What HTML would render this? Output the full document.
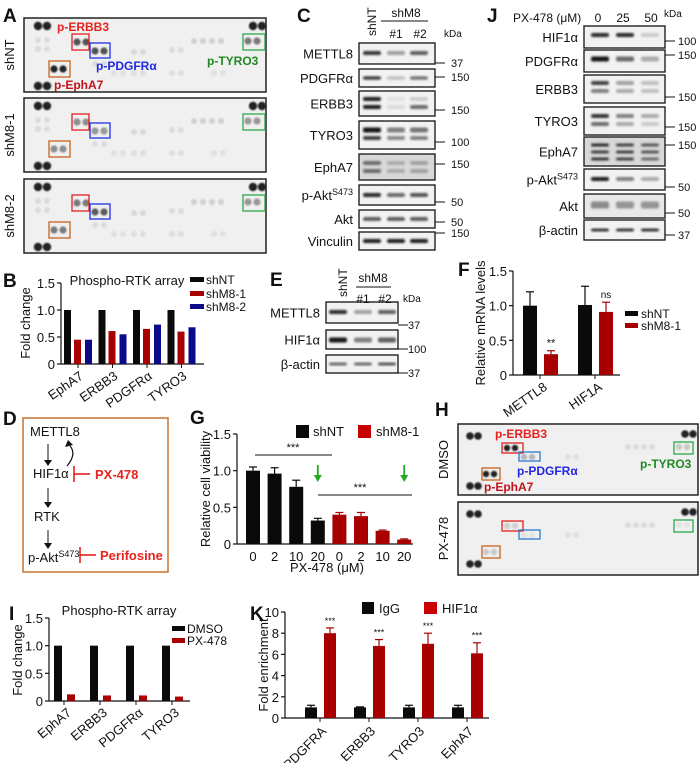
<!DOCTYPE html>
<html><head><meta charset="utf-8"><style>
html,body{margin:0;padding:0;background:#fff;}
svg{display:block;font-family:"Liberation Sans",Arial,sans-serif;}
</style></head><body>
<svg id="fig" width="700" height="763" viewBox="0 0 700 763" xmlns="http://www.w3.org/2000/svg">
<defs>
<filter id="blur1" x="-50%" y="-50%" width="200%" height="200%"><feGaussianBlur stdDeviation="1.1"/></filter>
<filter id="blur2" x="-50%" y="-50%" width="200%" height="200%"><feGaussianBlur stdDeviation="0.8"/></filter>
</defs>
<g id="root"></g>
</svg>
<script>
// ---------- chart data ----------
const bCats = ["EphA7","ERBB3","PDGFRα","TYRO3"];
const bShNT = [1,1,1,1];
const bShM81 = [0.45,0.61,0.65,0.60];
const bShM82 = [0.45,0.55,0.73,0.68];
const bTicks = [0,0.5,1.0,1.5];

const fCats = ["METTL8","HIF1A"];
const fShNT = [1.0,1.01];
const fShNTErr = [0.2,0.27];
const fShM8 = [0.3,0.91];
const fShM8Err = [0.05,0.14];
const fSig = ["**","ns"];
const fTicks = [0,0.5,1.0,1.5];

const gDoses = ["0","2","10","20","0","2","10","20"];
const gValues = [1.0,0.96,0.78,0.32,0.40,0.38,0.18,0.06];
const gErrors = [0.05,0.08,0.09,0.03,0.03,0.05,0.01,0.01];
const gGroup = ["shNT","shNT","shNT","shNT","shM8-1","shM8-1","shM8-1","shM8-1"];
const gTicks = [0,0.5,1.0,1.5];

const iCats = ["EphA7","ERBB3","PDGFRα","TYRO3"];
const iDMSO = [1,1,1,1];
const iPX = [0.12,0.1,0.1,0.08];
const iTicks = [0,0.5,1.0,1.5];

const kCats = ["PDGFRA","ERBB3","TYRO3","EphA7"];
const kIgG = [1.0,1.0,1.0,1.0];
const kIgGErr = [0.2,0.05,0.2,0.2];
const kHIF = [8.0,6.8,7.0,6.1];
const kHIFErr = [0.5,0.6,1.0,1.0];
const kTicks = [0,2,4,6,8,10];

// ---------- helpers ----------
const NS="http://www.w3.org/2000/svg";
const root=document.getElementById('root');
function el(tag,attrs,parent,text){
  const e=document.createElementNS(NS,tag);
  for(const k in attrs) e.setAttribute(k,attrs[k]);
  if(text!==undefined) e.textContent=text;
  (parent||root).appendChild(e);
  return e;
}
function grp(name,parent){const g=el('g',{},parent);return g;}
function txt(parent,x,y,s,opts){
  opts=opts||{};
  const t=el('text',{x:x,y:y,'font-size':opts.size||12,fill:opts.fill||'#111','text-anchor':opts.anchor||'start','font-weight':opts.bold?'bold':'normal'},parent,s);
  if(opts.rot!==undefined) t.setAttribute('transform','rotate('+opts.rot+' '+x+' '+y+')');
  
  
  return t;
}
function line(parent,x1,y1,x2,y2,stroke,w){return el('line',{x1:x1,y1:y1,x2:x2,y2:y2,stroke:stroke||'#111','stroke-width':w||1},parent);}
function panelLetter(x,y,s){txt(root,x,y,s,{size:19,bold:true,name:'panel-label-'+s.toLowerCase()});}

// ---------- panel letters ----------
panelLetter(3,22,'A');panelLetter(297,22,'C');panelLetter(487,22,'J');
panelLetter(3,287,'B');panelLetter(270,286,'E');panelLetter(458,276,'F');
panelLetter(3,425,'D');panelLetter(190,424,'G');panelLetter(435,416,'H');
panelLetter(9,620,'I');panelLetter(250,620,'K');

// ---------- dot arrays (A, H) ----------
function dotArray(name,x,y,w,h,dots,boxes,label){
  const g=grp(name);
  el('rect',{x:x,y:y,width:w,height:h,fill:'#f0f0f0',stroke:'#222','stroke-width':1.5},g);
  const dg=el('g',{filter:'url(#blur2)'},g);
  dots.forEach(d=>{
    const c=Math.round(232-200*d[2]);
    const e=el('circle',{cx:x+d[0],cy:y+d[1],r:d[3]||3.6,fill:'rgb('+c+','+c+','+c+')'},dg);
    
  });
  boxes.forEach(b=>{
    const r=el('rect',{x:x+b[0],y:y+b[1],width:b[2],height:b[3],fill:'none',stroke:b[4],'stroke-width':1.3},g);
    
  });
  txt(g,x-10,y+h/2,label,{size:13,anchor:'middle',rot:-90,name:'array-row-label'});
  return g;
}
function pair(a,px,py,int,r,dx){a.push([px,py,int,r]);a.push([px+(dx||9),py,int,r]);}
function aDots(v){
  const a=[];
  pair(a,14,8,1,4.2);pair(a,14,68,1,4.2);pair(a,229,8,1,4.2);
  pair(a,53,24,v[0]);pair(a,71,33,v[1]);pair(a,30,51,v[2]);pair(a,224,23,v[3]);
  pair(a,14,22,0.07,3);pair(a,14,31,0.06,3);pair(a,110,34,0.08,3);pair(a,148,32,0.06,3);
  pair(a,170,23,0.12,3);pair(a,188,23,0.12,3);pair(a,71,46,0.06,3);pair(a,110,55,0.05,3);
  pair(a,148,55,0.05,3);pair(a,190,55,0.04,3);pair(a,90,55,0.04,3);
  return a;
}
const aBoxes=[[48,16,17,16,'#e02020'],[66,25,20,15,'#2030e0'],[25,43,21,16,'#c8641e'],[219,16,22,16,'#2aaa4a']];
dotArray('array-shnt',24,18,242,74,aDots([0.75,0.75,1,0.55]),aBoxes,'shNT');
dotArray('array-shm8-1',24,98,242,74,aDots([0.45,0.4,0.45,0.4]),aBoxes,'shM8-1');
dotArray('array-shm8-2',24,179,242,74,aDots([0.55,0.7,0.55,0.4]),aBoxes,'shM8-2');
txt(root,57,31,'p-ERBB3',{size:12,bold:true,fill:'#e8221f',name:'label-p-erbb3'});
txt(root,96,70,'p-PDGFRα',{size:12,bold:true,fill:'#2228e0',name:'label-p-pdgfra'});
txt(root,207,65,'p-TYRO3',{size:12,bold:true,fill:'#1f8a1f',name:'label-p-tyro3'});
txt(root,54,89,'p-EphA7',{size:12,bold:true,fill:'#c0141a',name:'label-p-epha7'});

function hDots(v){
  const a=[];
  pair(a,12,12,1,3.8,8);pair(a,12,62,1,3.8,8);pair(a,227,10,1,3.8,8);
  pair(a,49,24,v[0],3.2,8);pair(a,66,33,v[1],3.2,8);pair(a,28,50,v[2],3.2,8);pair(a,221,23,v[3],3.2,8);
  pair(a,170,23,0.06,3,8);pair(a,186,23,0.06,3,8);pair(a,110,33,0.04,3,8);
  return a;
}
const hBoxes=[[44,19,21,10,'#e02020'],[61,28,21,9,'#2a7ad0'],[24,44,18,12,'#c8641e'],[216,18,19,12,'#2aaa4a']];
dotArray('array-dmso',458,424,240,71,hDots([1,0.25,1,0.15]),hBoxes,'DMSO');
dotArray('array-px478',458,502,240,73,hDots([0.12,0.02,0.15,0.02]),hBoxes,'PX-478');
txt(root,495,438,'p-ERBB3',{size:12,bold:true,fill:'#e8221f',name:'label-p-erbb3-h'});
txt(root,517,475,'p-PDGFRα',{size:12,bold:true,fill:'#2228e0',name:'label-p-pdgfra-h'});
txt(root,640,468,'p-TYRO3',{size:12,bold:true,fill:'#1f8a1f',name:'label-p-tyro3-h'});
txt(root,484,491,'p-EphA7',{size:12,bold:true,fill:'#c0141a',name:'label-p-epha7-h'});

// ---------- western blots ----------
function blot(name,bx,bw,rows,lanes,kdas,kx){
  const g=grp(name);
  rows.forEach(r=>{
    const rg=grp('blot-row-'+r.label.replace(/[^A-Za-z0-9]/g,'').toLowerCase(),g);
    el('rect',{x:bx,y:r.y,width:bw,height:r.h,fill:r.bg||'#f2f2f2',stroke:'#222','stroke-width':1.4},rg);
    const bg=el('g',{filter:'url(#blur1)'},rg);
    r.bands.forEach(b=>{
      lanes.forEach((lx,i)=>{
        const v=b.v[i]; if(v<=0) return;
        const c=Math.round(235-215*v);
        el('rect',{x:lx-9,y:r.y+b.dy-b.t/2,width:18,height:b.t,rx:2,fill:'rgb('+c+','+c+','+c+')'},bg);
      });
    });
    const lt=txt(rg,bx-6,r.y+r.h/2+5,'',{size:13,anchor:'end',name:'blot-label'});
    if(r.sup){lt.textContent=r.label;el('tspan',{'font-size':9,dy:-5},lt,r.sup);}
    else lt.textContent=r.label;
  });
  kdas.forEach(k=>{
    line(g,bx+bw,k[1],bx+bw+10,k[1],'#111',1);
    txt(g,kx,k[1]+4,k[0],{size:11,name:'kda-marker'});
  });
  return g;
}
const cL=[372,396,419];
blot('blot-c',359,76,[
 {label:'METTL8',y:43,h:21,bands:[{dy:10,t:4,v:[0.85,0.35,0.65]}]},
 {label:'PDGFRα',y:69,h:18,bands:[{dy:9,t:3.5,v:[0.8,0.2,0.55]}]},
 {label:'ERBB3',y:91,h:25,bands:[{dy:8,t:4,v:[0.95,0.05,0.15]},{dy:16,t:4,v:[0.95,0.08,0.6]}]},
 {label:'TYRO3',y:121,h:28,bands:[{dy:9,t:5,v:[1,0.5,0.55]},{dy:17,t:4,v:[0.8,0.45,0.5]}]},
 {label:'EphA7',y:154,h:26,bg:'#d8d8d8',bands:[{dy:9,t:4,v:[0.6,0.3,0.35]},{dy:17,t:4,v:[0.6,0.3,0.35]}]},
 {label:'p-Akt',sup:'S473',y:185,h:20,bands:[{dy:10,t:4,v:[0.9,0.6,0.7]}]},
 {label:'Akt',y:210,h:18,bands:[{dy:9,t:4,v:[0.65,0.65,0.65]}]},
 {label:'Vinculin',y:232,h:18,bands:[{dy:9,t:4,v:[0.95,0.95,0.95]}]}
],cL,[['37',63],['150',77],['150',110],['100',142],['150',164],['50',202],['50',222],['150',233]],451);
txt(root,376,36,'shNT',{size:12,rot:-90,name:'lane-shnt'});
txt(root,406,17,'shM8',{size:12,anchor:'middle',name:'lane-shm8'});
line(root,381,21,428,21);
txt(root,396,38,'#1',{size:12,anchor:'middle',name:'lane-1'});
txt(root,420,38,'#2',{size:12,anchor:'middle',name:'lane-2'});
txt(root,444,37,'kDa',{size:10,name:'kda-header'});

const jL=[600,625,650];
blot('blot-j',584,81,[
 {label:'HIF1α',y:26,h:22,bands:[{dy:9,t:4,v:[0.9,0.9,0.15]}]},
 {label:'PDGFRα',y:50,h:22,bands:[{dy:9,t:5,v:[1,0.6,0.3]}]},
 {label:'ERBB3',y:75,h:28,bands:[{dy:8,t:4,v:[0.8,0.35,0.2]},{dy:16,t:4,v:[0.5,0.3,0.2]}]},
 {label:'TYRO3',y:107,h:28,bands:[{dy:9,t:4,v:[0.85,0.5,0.3]},{dy:17,t:4,v:[0.6,0.3,0.15]}]},
 {label:'EphA7',y:137,h:29,bg:'#d8d8d8',bands:[{dy:8,t:3,v:[0.9,0.8,0.7]},{dy:15,t:3,v:[0.8,0.8,0.7]},{dy:22,t:3,v:[0.85,0.8,0.6]}]},
 {label:'p-Akt',sup:'S473',y:169,h:21,bands:[{dy:10,t:4,v:[0.95,0.5,0.3]}]},
 {label:'Akt',y:194,h:24,bg:'#e8e8e8',bands:[{dy:11,t:7,v:[0.45,0.4,0.4]}]},
 {label:'β-actin',y:220,h:20,bands:[{dy:10,t:3,v:[0.85,0.85,0.85]}]}
],jL,[['100',41],['150',55],['150',97],['150',127],['150',145],['50',187],['50',213],['37',235]],678);
txt(root,513,22,'PX-478 (μM)',{size:12,name:'px478-header'});
txt(root,598,22,'0',{size:12,anchor:'middle',name:'dose-0'});
txt(root,623,22,'25',{size:12,anchor:'middle',name:'dose-25'});
txt(root,651,22,'50',{size:12,anchor:'middle',name:'dose-50'});
txt(root,664,17,'kDa',{size:10,name:'kda-header-j'});

const eL=[338,363,387];
blot('blot-e',326,72,[
 {label:'METTL8',y:302,h:21,bands:[{dy:10,t:4,v:[0.9,0.35,0.65]}]},
 {label:'HIF1α',y:330,h:19,bands:[{dy:10,t:5,v:[1,0.5,0.65]}]},
 {label:'β-actin',y:355,h:18,bands:[{dy:9,t:3,v:[0.6,0.6,0.7]}]}
],eL,[['37',325],['100',349],['37',373]],408);
txt(root,347,297,'shNT',{size:12,rot:-90,name:'lane-shnt-e'});
txt(root,373,282,'shM8',{size:12,anchor:'middle',name:'lane-shm8-e'});
line(root,356,287,391,287);
txt(root,363,303,'#1',{size:12,anchor:'middle',name:'lane-1-e'});
txt(root,385,303,'#2',{size:12,anchor:'middle',name:'lane-2-e'});
txt(root,403,302,'kDa',{size:10,name:'kda-header-e'});

// ---------- axis helper ----------
function yAxis(g,x,y0,y1,ticks,maxV,fmt){
  line(g,x,y0,x,y1,'#111',1.2);
  const sc=v=>y0-(v/maxV)*(y0-y1);
  ticks.forEach(t=>{
    line(g,x-4,sc(t),x,sc(t),'#111',1.2);
    txt(g,x-6,sc(t)+5,fmt(t),{size:13,anchor:'end',name:'y-tick-label'});
  });
  return sc;
}
const f1=t=>t===0?'0':t.toFixed(1);
function bar(g,x,w,y0,y,fill,name){
  const r=el('rect',{x:x,y:y,width:w,height:y0-y,fill:fill},g);
  
}
function err(g,cx,y,ye,fill){line(g,cx,y,cx,ye,fill,1.2);line(g,cx-4,ye,cx+4,ye,fill,1.2);}
const BLK='#0a0a0a',RED='#a80000',BLU='#0a0a8a';

// ---------- B ----------
(function(){
  const g=grp('chart-b');
  const x0=61,x1=204,y0=364,y1=283;
  const sy=yAxis(g,x0,y0,y1,bTicks,1.5,f1);
  line(g,x0,y0,x1,y0,'#111',1.2);
  const gx=i=>64+i*34.5;
  bCats.forEach((c,i)=>{
    bar(g,gx(i),7,y0,sy(bShNT[i]),BLK,'bar-shnt-'+c);
    bar(g,gx(i)+10,7,y0,sy(bShM81[i]),RED,'bar-shm8-1-'+c);
    bar(g,gx(i)+21,7,y0,sy(bShM82[i]),BLU,'bar-shm8-2-'+c);
    line(g,gx(i)+14,y0,gx(i)+14,y0+4);
    txt(g,gx(i)+20,y0+14,c,{size:13,anchor:'end',rot:-35,name:'x-tick-label'});
  });
  txt(g,30,323,'Fold change',{size:13,anchor:'middle',rot:-90,name:'y-axis-title'});
  txt(g,127,285,'Phospho-RTK array',{size:13,anchor:'middle',name:'chart-title'});
  [['shNT',BLK,280],['shM8-1',RED,294],['shM8-2',BLU,307]].forEach(l=>{
    el('rect',{x:190,y:l[2]-3,width:14,height:5,fill:l[1]},g);
    txt(g,206,l[2]+4,l[0],{size:12,name:'legend-entry'});
  });
})();

// ---------- F ----------
(function(){
  const g=grp('chart-f');
  const x0=513,x1=620,y0=375,y1=271;
  const sy=yAxis(g,x0,y0,y1,fTicks,1.5,f1);
  line(g,x0,y0,x1,y0,'#111',1.2);
  const gx=i=>523+i*55;
  fCats.forEach((c,i)=>{
    bar(g,gx(i),14,y0,sy(fShNT[i]),BLK,'bar-shnt-'+c);
    err(g,gx(i)+7,sy(fShNT[i]),sy(fShNT[i]+fShNTErr[i]),BLK);
    bar(g,gx(i)+21,14,y0,sy(fShM8[i]),RED,'bar-shm8-'+c);
    err(g,gx(i)+28,sy(fShM8[i]),sy(fShM8[i]+fShM8Err[i]),RED);
    txt(g,gx(i)+28,sy(fShM8[i]+fShM8Err[i])-4,fSig[i],{size:fSig[i]==='ns'?10:11,anchor:'middle',name:'significance'});
    line(g,gx(i)+17,y0,gx(i)+17,y0+4);
    txt(g,gx(i)+25,y0+14,c,{size:13,anchor:'end',rot:-35,name:'x-tick-label'});
  });
  txt(g,485,323,'Relative mRNA levels',{size:13,anchor:'middle',rot:-90,name:'y-axis-title'});
  [['shNT',BLK,314],['shM8-1',RED,326]].forEach(l=>{
    el('rect',{x:625,y:l[2]-3,width:13,height:5,fill:l[1]},g);
    txt(g,641,l[2]+4,l[0],{size:12,name:'legend-entry'});
  });
})();

// ---------- D ----------
(function(){
  const g=grp('diagram-d');
  el('rect',{x:23,y:418,width:145,height:154,fill:'none',stroke:'#c8742e','stroke-width':1.5},g);
  txt(g,30,436,'METTL8',{size:13,name:'node-mettl8'});
  txt(g,33,478,'HIF1α',{size:13,name:'node-hif1a'});
  txt(g,34,521,'RTK',{size:13,name:'node-rtk'});
  const pa=txt(g,28,562,'p-Akt',{size:13,name:'node-pakt'});
  el('tspan',{'font-size':9,dy:-5},pa,'S473');
  [[444,466],[488,508],[530,549]].forEach(a=>{
    line(g,48,a[0],48,a[1]-5,'#111',1);
    el('polygon',{points:`44,${a[1]-6} 52,${a[1]-6} 48,${a[1]}`,fill:'#111'},g);
  });
  el('path',{d:'M67,466 Q77,454 70,446',fill:'none',stroke:'#111','stroke-width':1.2},g);
  el('polygon',{points:'65,447 73,445 68,440',fill:'#111'},g);
  line(g,74,466,74,482,'#e8221f',1.6);line(g,74,474,90,474,'#e8221f',1.6);
  txt(g,95,479,'PX-478',{size:13,bold:true,fill:'#e8221f',name:'inhibitor-px478'});
  line(g,80,547,80,563,'#e8221f',1.6);line(g,80,555,96,555,'#e8221f',1.6);
  txt(g,100,560,'Perifosine',{size:13,bold:true,fill:'#e8221f',name:'inhibitor-perifosine'});
})();

// ---------- G ----------
(function(){
  const g=grp('chart-g');
  const x0=237,x1=413,y0=544,y1=434;
  const sy=yAxis(g,x0,y0,y1,gTicks,1.5,f1);
  line(g,x0,y0,x1,y0,'#111',1.2);
  const cx=i=>253+i*21.6;
  gValues.forEach((v,i)=>{
    const col=gGroup[i]==='shNT'?BLK:RED;
    bar(g,cx(i)-7,14,y0,sy(v),col,'bar-'+gGroup[i]+'-'+gDoses[i]);
    err(g,cx(i),sy(v),sy(v+gErrors[i]),col);
    txt(g,cx(i),y0+17,gDoses[i],{size:13,anchor:'middle',name:'x-tick-label'});
  });
  txt(g,327,572,'PX-478 (μM)',{size:13,anchor:'middle',name:'x-axis-title'});
  txt(g,210,489,'Relative cell viability',{size:13,anchor:'middle',rot:-90,name:'y-axis-title'});
  line(g,255,455,332,455);txt(g,293,451,'***',{size:11,anchor:'middle',name:'significance'});
  line(g,318,495,412,495);txt(g,360,491,'***',{size:11,anchor:'middle',name:'significance'});
  [cx(3),cx(7)].forEach(ax=>{
    line(g,ax,465,ax,477,'#22aa22',1.8);
    el('polygon',{points:`${ax-4},${475} ${ax+4},${475} ${ax},${482}`,fill:'#22aa22'},g);
  });
  el('rect',{x:296,y:425,width:13,height:13,fill:BLK},g);
  txt(g,313,436,'shNT',{size:13,name:'legend-entry'});
  el('rect',{x:358,y:425,width:13,height:13,fill:'#c80000'},g);
  txt(g,376,436,'shM8-1',{size:13,name:'legend-entry'});
})();

// ---------- I ----------
(function(){
  const g=grp('chart-i');
  const x0=49,x1=190,y0=701,y1=618;
  const sy=yAxis(g,x0,y0,y1,iTicks,1.5,f1);
  line(g,x0,y0,x1,y0,'#111',1.2);
  const gx=i=>54+i*36;
  iCats.forEach((c,i)=>{
    bar(g,gx(i),8,y0,sy(iDMSO[i]),BLK,'bar-dmso-'+c);
    bar(g,gx(i)+13,8,y0,sy(iPX[i]),RED,'bar-px478-'+c);
    line(g,gx(i)+10,y0,gx(i)+10,y0+4);
    txt(g,gx(i)+18,y0+13,c,{size:13,anchor:'end',rot:-40,name:'x-tick-label'});
  });
  txt(g,22,660,'Fold change',{size:13,anchor:'middle',rot:-90,name:'y-axis-title'});
  txt(g,119,615,'Phospho-RTK array',{size:13,anchor:'middle',name:'chart-title'});
  [['DMSO',BLK,629],['PX-478',RED,641]].forEach(l=>{
    el('rect',{x:172,y:l[2]-3,width:13,height:5,fill:l[1]},g);
    txt(g,187,l[2]+4,l[0],{size:12,name:'legend-entry'});
  });
})();

// ---------- K ----------
(function(){
  const g=grp('chart-k');
  const x0=285,x1=489,y0=718,y1=612;
  const sy=yAxis(g,x0,y0,y1,kTicks,10,t=>String(t));
  line(g,x0,y0,x1,y0,'#111',1.2);
  const gx=i=>305+i*49;
  kCats.forEach((c,i)=>{
    bar(g,gx(i),12,y0,sy(kIgG[i]),BLK,'bar-igg-'+c);
    err(g,gx(i)+6,sy(kIgG[i]),sy(kIgG[i]+kIgGErr[i]),BLK);
    bar(g,gx(i)+19,12,y0,sy(kHIF[i]),RED,'bar-hif1a-'+c);
    err(g,gx(i)+25,sy(kHIF[i]),sy(kHIF[i]+kHIFErr[i]),RED);
    txt(g,gx(i)+25,sy(kHIF[i]+kHIFErr[i])-4,'***',{size:9,anchor:'middle',name:'significance'});
    line(g,gx(i)+15,y0,gx(i)+15,y0+4);
    txt(g,gx(i)+22,y0+14,c,{size:13,anchor:'end',rot:-45,name:'x-tick-label'});
  });
  txt(g,268,665,'Fold enrichment',{size:13,anchor:'middle',rot:-90,name:'y-axis-title'});
  el('rect',{x:362,y:602,width:12,height:12,fill:BLK},g);
  txt(g,379,613,'IgG',{size:13,name:'legend-entry'});
  el('rect',{x:424,y:602,width:13,height:12,fill:'#c80000'},g);
  txt(g,442,613,'HIF1α',{size:13,name:'legend-entry'});
})();
</script>
</body></html>
